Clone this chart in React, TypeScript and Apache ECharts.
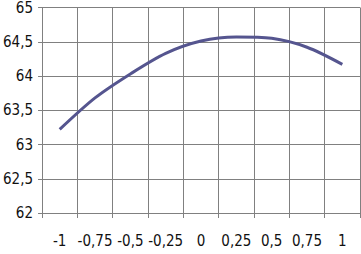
import React, { useEffect, useRef } from "react";
import * as echarts from "echarts";

const categories = ["-1", "-0,75", "-0,5", "-0,25", "0", "0,25", "0,5", "0,75", "1"];
const values = [63.22, 63.68, 64.03, 64.33, 64.51, 64.57, 64.55, 64.42, 64.17];
const yMin = 62;
const yMax = 65;
const yStep = 0.5;

const FONT = "'Liberation Sans Narrow', 'DejaVu Sans Condensed', 'Arial Narrow', sans-serif";

export default function App() {
  const ref = useRef<HTMLDivElement>(null);
  useEffect(() => {
    if (!ref.current) return;
    const chart = echarts.init(ref.current, undefined, { renderer: "svg" });
    chart.setOption({
      animation: false,
      backgroundColor: "#ffffff",
      grid: { left: 35, right: 1, top: 5, bottom: 41, containLabel: false },
      xAxis: {
        type: "category",
        data: categories,
        boundaryGap: true,
        axisLine: { show: true, lineStyle: { color: "#808080", width: 1 } },
        axisTick: { show: true, length: 5, inside: false, lineStyle: { color: "#808080" } },
        splitLine: { show: true, lineStyle: { color: "#808080", width: 1 } },
        axisLabel: {
          color: "#111",
          fontFamily: FONT,
          fontSize: 15,
          margin: 20,
          interval: 0,
        },
      },
      yAxis: {
        type: "value",
        min: yMin,
        max: yMax,
        interval: yStep,
        axisLine: { show: true, lineStyle: { color: "#808080", width: 1 } },
        axisTick: { show: true, length: 4, lineStyle: { color: "#808080" } },
        splitLine: { show: true, lineStyle: { color: "#808080", width: 1 } },
        axisLabel: {
          color: "#111",
          fontFamily: FONT,
          fontSize: 15,
          margin: 9,
          formatter: (v: number) => String(v).replace(".", ","),
        },
      },
      series: [
        {
          type: "line",
          data: values,
          smooth: 0.3,
          symbol: "none",
          lineStyle: { color: "#55558f", width: 3 },
        },
      ],
    });
    return () => chart.dispose();
  }, []);
  return (
    <div
      ref={ref}
      style={{ position: "fixed", left: 0, top: 0, width: 361, height: 254, background: "#fff" }}
    />
  );
}
